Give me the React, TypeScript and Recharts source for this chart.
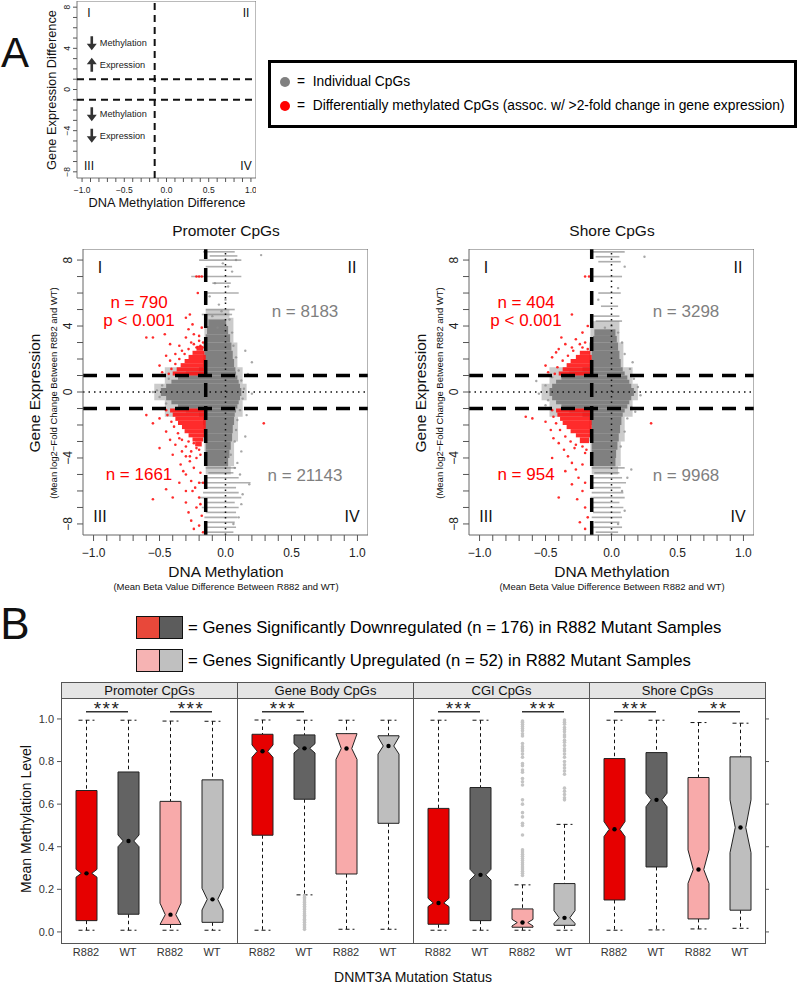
import React from 'react'
import {
  ScatterChart,
  Scatter,
  ComposedChart,
  Bar,
  XAxis,
  YAxis,
  ReferenceArea,
  ReferenceLine,
  ReferenceDot,
} from 'recharts'

const FONT = '"Liberation Sans", Arial, Helvetica, sans-serif'
const RED = '#ff1414'
const GREY = '#808080'
const MINUS = '\u2212'

// ---------- shared axis ticks ----------
const methTicks = [-1, -0.9, -0.8, -0.7, -0.6, -0.5, -0.4, -0.3, -0.2, -0.1, 0, 0.1, 0.2, 0.3, 0.4, 0.5, 0.6, 0.7, 0.8, 0.9, 1]
const exprTicks = [-8, -7, -6, -5, -4, -3, -2, -1, 0, 1, 2, 3, 4, 5, 6, 7, 8]
const exprCutoffs = [-1, 1]

// ---------- panel A schematic ----------
const schemMethCutoff = -0.14
const schemNotes = [
  { x: -0.885, y: 4.5, dir: 'down', text: 'Methylation' },
  { x: -0.885, y: 2.4, dir: 'up', text: 'Expression' },
  { x: -0.885, y: -2.4, dir: 'down', text: 'Methylation' },
  { x: -0.885, y: -4.5, dir: 'down', text: 'Expression' },
]

// ---------- scatter: Promoter CpGs ----------
const methCutoff = -0.15
// dense cloud read as horizontal bands: [exprLo, exprHi, methLo, methHi]
const promoterGreyCore = [
  [-4.5, -4.0, -0.14, 0.02], [-4.0, -3.5, -0.15, 0.03], [-3.5, -3.0, -0.15, 0.04], [-3.0, -2.5, -0.155, 0.05],
  [-2.5, -2.0, -0.16, 0.055], [-2.0, -1.5, -0.17, 0.065], [-1.5, -1.25, -0.2, 0.07], [-1.25, -1.0, -0.3, 0.08],
  [-1.0, -0.75, -0.36, 0.09], [-0.75, -0.5, -0.41, 0.1], [-0.5, -0.25, -0.45, 0.11], [-0.25, 0.25, -0.49, 0.12],
  [0.25, 0.5, -0.45, 0.11], [0.5, 0.75, -0.41, 0.1], [0.75, 1.0, -0.36, 0.09], [1.0, 1.25, -0.3, 0.08],
  [1.25, 1.5, -0.2, 0.075], [1.5, 2.0, -0.17, 0.065], [2.0, 2.5, -0.16, 0.055], [2.5, 3.0, -0.155, 0.045],
  [3.0, 3.5, -0.15, 0.035], [3.5, 4.0, -0.14, 0.02], [4.0, 4.4, -0.13, 0.005],
]
// sparser halo around the dense cloud
const promoterGreyHalo = [
  [-5.0, -4.5, -0.15, 0.04], [-4.5, -3.0, -0.16, 0.065], [-3.0, -1.5, -0.17, 0.095], [-1.5, -0.5, -0.46, 0.13],
  [-0.5, 0.5, -0.54, 0.16], [0.5, 1.5, -0.46, 0.13], [1.5, 3.0, -0.17, 0.09], [3.0, 4.5, -0.16, 0.06],
  [4.5, 5.0, -0.15, 0.03],
]
const promoterRedCore = [
  [1.0, 1.25, -0.4, -0.15], [1.25, 1.5, -0.37, -0.15], [1.5, 1.75, -0.34, -0.15], [1.75, 2.0, -0.31, -0.15],
  [2.0, 2.25, -0.28, -0.15], [2.25, 2.5, -0.25, -0.16], [2.5, 2.8, -0.22, -0.17],
  [-1.25, -1.0, -0.42, -0.15], [-1.5, -1.25, -0.4, -0.15], [-1.75, -1.5, -0.38, -0.15], [-2.0, -1.75, -0.36, -0.15],
  [-2.25, -2.0, -0.33, -0.15], [-2.5, -2.25, -0.31, -0.15], [-2.75, -2.5, -0.28, -0.16], [-3.0, -2.75, -0.25, -0.17],
  [-3.3, -3.0, -0.23, -0.18],
]
// rows of CpGs sharing one gene: [expr, methLo, methHi]
const promoterStreaks = [
  [8.5, -0.17, 0.07], [8.25, -0.12, 0.09], [8.0, -0.2, 0.12], [7.6, -0.15, 0.05], [7.0, -0.26, 0.12],
  [6.6, -0.1, 0.04], [6.0, -0.15, 0.1], [5.0, -0.15, 0.07], [4.7, -0.18, 0.05],
  [-4.6, -0.15, 0.08], [-4.9, -0.13, 0.06], [-5.2, -0.15, 0.1], [-5.5, -0.2, 0.19], [-5.8, -0.15, 0.08],
  [-6.1, -0.17, 0.1], [-6.4, -0.2, 0.12], [-6.7, -0.15, 0.07], [-7.0, -0.18, 0.1], [-7.3, -0.15, 0.08],
  [-7.6, -0.16, 0.09], [-7.9, -0.15, 0.07], [-8.2, -0.16, 0.08], [-8.5, -0.14, 0.06],
]
const promoterGreyPts = [
  [0.14, 0.2], [0.13, -0.4], [0.12, 0.7], [0.11, -1.1], [0.1, 1.3], [0.09, -1.7], [0.08, 2.1], [0.08, -2.3],
  [0.06, 2.8], [0.07, -3.0], [0.05, 3.6], [0.04, -3.8], [0.2, -0.1], [0.16, -1.4], [0.17, 1.1], [-0.52, 0.1],
  [-0.5, -0.3], [-0.48, 0.4], [-0.45, -0.7], [-0.43, 0.8], [-0.55, 0.0], [-0.1, 4.6], [-0.05, 5.3], [0.0, 5.6],
  [-0.12, 5.8], [0.02, 6.4], [-0.08, 6.6], [0.05, 7.3], [-0.02, 7.8], [0.08, 8.0], [0.27, 8.3], [-0.03, 4.9],
  [0.03, 4.4], [0.15, -2.7], [0.12, -3.6], [0.09, -4.3], [0.18, -5.6], [0.12, -6.8], [0.1, -7.6], [0.06, -8.0],
  [0.15, 2.5], [0.2, 1.8], [0.11, -5.0], [0.13, -6.2], [-0.06, 3.9], [0.07, -4.6],
]
const promoterRedPts = [
  [-0.6, 3.3], [-0.55, 3.3], [-0.46, 3.5], [-0.42, 2.9], [-0.35, 2.8], [-0.3, 3.3], [-0.28, 3.8], [-0.24, 3.5],
  [-0.2, 3.1], [-0.18, 3.9], [-0.45, 2.2], [-0.5, 1.6], [-0.48, 1.2], [-0.42, 1.9], [-0.22, 2.7], [-0.26, 3.0],
  [-0.33, 2.5], [-0.38, 2.3], [-0.19, 2.8], [-0.25, 4.1], [-0.22, 7.0], [-0.2, 7.0], [-0.18, 7.0], [-0.27, 4.7],
  [-0.3, 4.5], [-0.21, 6.0], [-0.43, 1.1], [-0.41, 1.4], [-0.38, 1.7], [-0.35, 2.0], [-0.31, 2.3], [-0.28, 2.6],
  [-0.24, 2.9], [-0.2, 3.4], [-0.17, 3.0], [-0.16, 2.7],
  [-0.5, -1.6], [-0.55, -1.9], [-0.45, -2.4], [-0.42, -2.9], [-0.38, -3.2], [-0.33, -3.6], [-0.3, -3.9],
  [-0.27, -4.2], [-0.22, -4.0], [-0.2, -3.5], [-0.28, -3.0], [-0.35, -2.8], [-0.24, -4.6], [-0.19, -4.9],
  [-0.3, -5.0], [-0.35, -5.5], [-0.26, -5.4], [-0.2, -5.5], [-0.17, -5.5], [-0.45, -5.9], [-0.25, -6.0],
  [-0.2, -6.4], [-0.4, -6.4], [-0.55, -6.5], [-0.3, -6.7], [-0.22, -7.0], [-0.28, -7.3], [-0.18, -7.5],
  [-0.26, -7.8], [-0.2, -8.1], [-0.24, -8.3], [-0.17, -8.5], [-0.3, -6.0], [-0.6, -1.4], [-0.5, -3.4],
  [-0.34, -4.4], [0.29, -1.9], [-0.4, -3.8], [-0.32, -4.8], [-0.23, -5.8], [-0.19, -6.8],
  [-0.45, -1.1], [-0.44, -1.4], [-0.41, -1.8], [-0.39, -2.1], [-0.36, -2.5], [-0.33, -2.9], [-0.3, -3.3],
  [-0.26, -3.6], [-0.22, -3.4], [-0.19, -3.8], [-0.24, -3.1], [-0.27, -3.9],
]

// ---------- scatter: Shore CpGs ----------
const shoreGreyCore = [
  [-4.5, -4.0, -0.14, 0.03], [-4.0, -3.5, -0.15, 0.035], [-3.5, -3.0, -0.15, 0.045], [-3.0, -2.5, -0.15, 0.055],
  [-2.5, -2.0, -0.15, 0.065], [-2.0, -1.5, -0.155, 0.075], [-1.5, -1.25, -0.22, 0.085], [-1.25, -1.0, -0.32, 0.1],
  [-1.0, -0.75, -0.38, 0.12], [-0.75, -0.5, -0.42, 0.135], [-0.5, -0.25, -0.45, 0.15], [-0.25, 0.25, -0.47, 0.17],
  [0.25, 0.5, -0.45, 0.15], [0.5, 0.75, -0.42, 0.135], [0.75, 1.0, -0.38, 0.12], [1.0, 1.25, -0.32, 0.1],
  [1.25, 1.5, -0.22, 0.085], [1.5, 2.0, -0.155, 0.07], [2.0, 2.5, -0.15, 0.06], [2.5, 3.0, -0.15, 0.05],
  [3.0, 3.4, -0.14, 0.04], [3.4, 3.8, -0.13, 0.03],
]
const shoreGreyHalo = [
  [-5.0, -4.5, -0.15, 0.05], [-4.5, -3.0, -0.16, 0.07], [-3.0, -1.5, -0.17, 0.1], [-1.5, -0.5, -0.47, 0.16],
  [-0.5, 0.5, -0.53, 0.2], [0.5, 1.5, -0.47, 0.16], [1.5, 3.0, -0.17, 0.09], [3.0, 4.3, -0.16, 0.06],
]
const shoreRedCore = [
  [1.0, 1.25, -0.4, -0.15], [1.25, 1.5, -0.37, -0.15], [1.5, 1.75, -0.34, -0.15], [1.75, 2.0, -0.31, -0.15],
  [2.0, 2.25, -0.27, -0.15], [2.25, 2.5, -0.24, -0.16],
  [-1.25, -1.0, -0.42, -0.15], [-1.5, -1.25, -0.41, -0.15], [-1.75, -1.5, -0.39, -0.15], [-2.0, -1.75, -0.37, -0.15],
  [-2.25, -2.0, -0.34, -0.15], [-2.5, -2.25, -0.31, -0.15], [-2.75, -2.5, -0.27, -0.16], [-3.1, -2.75, -0.24, -0.17],
]
const shoreStreaks = [
  [8.5, -0.15, 0.1], [8.2, -0.12, 0.06], [7.9, -0.1, 0.07], [7.0, -0.15, 0.08], [6.0, -0.1, 0.07],
  [5.2, -0.08, 0.05], [4.6, -0.15, 0.06], [4.3, -0.12, 0.08],
  [-4.6, -0.15, 0.1], [-4.9, -0.13, 0.06], [-5.2, -0.15, 0.08], [-5.5, -0.15, 0.11], [-5.8, -0.14, 0.07],
  [-6.1, -0.15, 0.09], [-6.4, -0.16, 0.1], [-6.7, -0.14, 0.06], [-7.0, -0.15, 0.09], [-7.3, -0.14, 0.07],
  [-7.6, -0.15, 0.08], [-7.9, -0.13, 0.06], [-8.2, -0.15, 0.08], [-8.5, -0.12, 0.05],
]
const shoreGreyPts = [
  [0.2, 0.3], [0.22, -0.2], [0.17, 0.8], [0.15, -0.9], [0.14, 1.4], [0.12, -1.6], [0.1, 2.3], [0.1, -2.4],
  [0.08, 3.0], [0.07, -3.3], [-0.55, -0.1], [-0.5, 0.4], [-0.57, 0.67], [-0.48, -0.5], [-0.45, 0.9],
  [0.05, 3.6], [0.0, 4.0], [-0.05, 3.9], [0.15, -4.7], [0.12, -5.2], [0.25, 8.2], [0.1, 7.6], [0.05, 6.3],
  [-0.1, 5.6], [0.08, -6.0], [0.1, -7.2], [0.05, -8.0], [0.18, -1.2], [0.16, 1.8], [-0.5, -0.8],
]
const shoreRedPts = [
  [-0.3, 4.7], [-0.22, 3.6], [-0.27, 3.2], [-0.35, 2.9], [-0.4, 2.6], [-0.45, 2.1], [-0.5, 1.6], [-0.48, 1.2],
  [-0.42, 2.4], [-0.3, 2.7], [-0.2, 3.0], [-0.18, 4.0], [-0.2, 7.0], [-0.17, 7.0], [-0.38, 3.3], [-0.24, 2.9],
  [-0.43, 1.1], [-0.41, 1.5], [-0.37, 1.9], [-0.33, 2.2], [-0.29, 2.5], [-0.22, 2.7], [-0.18, 2.6],
  [-0.65, -1.5], [-0.6, -1.6], [-0.5, -1.8], [-0.46, -2.3], [-0.44, -2.8], [-0.4, -3.1], [-0.36, -3.5],
  [-0.33, -3.9], [-0.3, -4.3], [-0.27, -4.7], [-0.22, -4.4], [-0.2, -3.7], [-0.35, -4.8], [-0.25, -5.2],
  [-0.2, -5.5], [-0.3, -5.6], [-0.22, -6.0], [-0.4, -6.4], [-0.26, -6.5], [-0.2, -7.0], [-0.18, -7.6],
  [-0.24, -7.9], [-0.2, -8.3], [0.3, -1.9], [-0.28, -3.4], [-0.45, -4.0],
  [-0.45, -1.1], [-0.44, -1.5], [-0.42, -1.9], [-0.39, -2.3], [-0.35, -2.7], [-0.31, -3.0], [-0.27, -3.2],
  [-0.22, -3.3], [-0.19, -3.5],
]

// ---------- panel B boxplots ----------
// each box: [whiskerLo, q1, notchLo, median, notchHi, q3, whiskerHi]
const facetNames = ['Promoter CpGs', 'Gene Body CpGs', 'CGI CpGs', 'Shore CpGs']
const boxIds = ['a', 'b', 'c', 'd']
const boxLabels: Record<string, string> = { a: 'R882', b: 'WT', c: 'R882', d: 'WT' }
const boxFills = ['#e60000', '#636363', '#f8aaaa', '#bebebe']
const levelTicks = [0, 0.2, 0.4, 0.6, 0.8, 1.0]

const promoterStats = [
  [0.008, 0.053, 0.257, 0.275, 0.294, 0.664, 0.994],
  [0.008, 0.083, 0.4, 0.427, 0.455, 0.751, 0.994],
  [0.008, 0.035, 0.035, 0.081, 0.135, 0.613, 0.99],
  [0.008, 0.045, 0.103, 0.153, 0.205, 0.714, 0.989],
]
const geneBodyStats = [
  [0.008, 0.454, 0.82, 0.848, 0.878, 0.928, 0.995],
  [0.174, 0.623, 0.84, 0.862, 0.884, 0.925, 0.994],
  [0.0125, 0.272, 0.81, 0.861, 0.93, 0.931, 0.994],
  [0.0125, 0.51, 0.835, 0.873, 0.915, 0.921, 0.994],
]
const cgiStats = [
  [0.008, 0.036, 0.119, 0.136, 0.158, 0.58, 0.994],
  [0.008, 0.053, 0.244, 0.268, 0.294, 0.678, 0.994],
  [0.008, 0.022, 0.028, 0.044, 0.059, 0.108, 0.221],
  [0.008, 0.031, 0.04, 0.066, 0.1, 0.227, 0.505],
]
const shoreStats = [
  [0.008, 0.15, 0.448, 0.482, 0.518, 0.814, 0.994],
  [0.0094, 0.305, 0.588, 0.62, 0.651, 0.842, 0.994],
  [0.014, 0.061, 0.228, 0.293, 0.385, 0.725, 0.983],
  [0.017, 0.102, 0.372, 0.49, 0.62, 0.822, 0.98],
]

const geneBodyWtOutliers = [
  0.012, 0.02, 0.028, 0.035, 0.045, 0.052, 0.06, 0.07, 0.078, 0.085, 0.095, 0.105, 0.112, 0.12, 0.13,
  0.138, 0.145, 0.155, 0.162, 0.17,
]
const cgiUpR882Outliers = [
  0.99, 0.985, 0.975, 0.965, 0.955, 0.945, 0.93, 0.92, 0.885, 0.87, 0.86, 0.85, 0.835, 0.82, 0.79, 0.78,
  0.76, 0.75, 0.72, 0.705, 0.69, 0.62, 0.6, 0.56, 0.54, 0.51, 0.5, 0.455, 0.385, 0.375, 0.365, 0.355, 0.345,
  0.335, 0.325, 0.315, 0.305, 0.295, 0.285, 0.275, 0.265,
]
const cgiUpWtOutliers = [
  0.995, 0.985, 0.975, 0.96, 0.95, 0.94, 0.925, 0.915, 0.9, 0.89, 0.875, 0.86, 0.85, 0.835, 0.82, 0.8,
  0.785, 0.77, 0.755, 0.74, 0.675, 0.66, 0.645, 0.63, 0.62,
]

const facetStats = [promoterStats, geneBodyStats, cgiStats, shoreStats]
const facetOutliers = [
  [[], [], [], []],
  [[], geneBodyWtOutliers, [], []],
  [[], [], cgiUpR882Outliers, cgiUpWtOutliers],
  [[], [], [], []],
]
const facetSig = [
  [['a', 'b', '***'], ['c', 'd', '***']],
  [['a', 'b', '***']],
  [['a', 'b', '***'], ['c', 'd', '***']],
  [['a', 'b', '***'], ['c', 'd', '**']],
]
const sigLevel = 1.034

// ---------- helpers ----------
function Txt({ x, y, size, color = '#111', rot = 0, children }: any) {
  return (
    <div
      style={{
        position: 'absolute',
        left: x,
        top: y,
        transform: `translate(-50%,-50%) rotate(${rot}deg)`,
        fontSize: size,
        color,
        fontFamily: FONT,
        lineHeight: 1,
        whiteSpace: 'nowrap',
      }}
    >
      {children}
    </div>
  )
}

const signed = (s: string, neg: boolean) => (neg ? MINUS : '') + s
const fmtMeth = (v: number) =>
  Math.abs(v * 2 - Math.round(v * 2)) < 1e-6 ? signed(Math.abs(v).toFixed(1), v < -1e-9) : ''
const fmtExpr = (v: number) => (v % 4 === 0 ? signed(String(Math.abs(v)), v < 0) : '')

function RotTick(props: any) {
  const { x, y, payload, size } = props
  const s = fmtExpr(payload.value)
  if (!s) return <g />
  return (
    <text
      transform={`translate(${x},${y}) rotate(-90)`}
      textAnchor="middle"
      fontSize={size}
      fontFamily={FONT}
      fill="#222"
    >
      {s}
    </text>
  )
}

const toPts = (arr: number[][]) => arr.map(([x, y]) => ({ x, y }))

function NoteArrow(props: any) {
  const { cx, cy, dir, text } = props
  const s = dir === 'down' ? 1 : -1
  const pts = [
    [cx - 1.3, cy - 7 * s],
    [cx + 1.3, cy - 7 * s],
    [cx + 1.3, cy + 0.5 * s],
    [cx + 5, cy + 0.5 * s],
    [cx, cy + 7 * s],
    [cx - 5, cy + 0.5 * s],
    [cx - 1.3, cy + 0.5 * s],
  ]
  return (
    <g>
      <polygon points={pts.map((p) => p.join(',')).join(' ')} fill="#333" />
      <text x={cx + 8} y={cy + 3.2} fontSize={9.2} fontFamily={FONT} fill="#222">
        {text}
      </text>
    </g>
  )
}

// ---------- panel A schematic ----------
function Schematic() {
  return (
    <div style={{ position: 'absolute', left: 55, top: 1 }}>
      <ScatterChart width={201} height={199} margin={{ top: 0, right: 0, bottom: 0, left: 0 }}>
        <XAxis
          type="number"
          dataKey="x"
          domain={[-1.06, 1.06]}
          ticks={methTicks}
          interval={0}
          tickFormatter={fmtMeth}
          height={22}
          tickSize={4}
          tickMargin={5}
          axisLine={false}
          stroke="#555"
          tick={{ fontSize: 8.5, fill: '#222', fontFamily: FONT }}
          allowDataOverflow
        />
        <YAxis
          type="number"
          dataKey="y"
          domain={[-8.6, 8.6]}
          ticks={exprTicks}
          interval={0}
          width={22}
          tickSize={4}
          tickMargin={3}
          axisLine={false}
          stroke="#555"
          tick={(p: any) => <RotTick {...p} size={8.5} />}
          allowDataOverflow
        />
        <Scatter data={[]} isAnimationActive={false} />
        {exprCutoffs.map((c) => (
          <ReferenceLine key={c} y={c} stroke="#111" strokeWidth={2} strokeDasharray="7 5" />
        ))}
        <ReferenceLine x={schemMethCutoff} stroke="#111" strokeWidth={2} strokeDasharray="7 5" />
        {schemNotes.map((n) => (
          <ReferenceDot
            key={n.text + n.y}
            x={n.x}
            y={n.y}
            r={0}
            shape={(p: any) => <NoteArrow {...p} dir={n.dir} text={n.text} />}
          />
        ))}
        <ReferenceArea x1={-1.06} x2={1.06} y1={-8.6} y2={8.6} fill="none" stroke="#777" strokeWidth={1} />
      </ScatterChart>
    </div>
  )
}

// ---------- big scatter ----------
function MethScatter({ left, core, halo, redCore, streaks, greyPts, redPts }: any) {
  const dom: [number, number] = [-1.08, 1.08]
  const edom: [number, number] = [-8.67, 8.67]
  return (
    <div style={{ position: 'absolute', left, top: 249 }}>
      <ScatterChart width={315} height={316} margin={{ top: 0, right: 0, bottom: 0, left: 0 }}>
        <XAxis
          type="number"
          dataKey="x"
          domain={dom}
          ticks={methTicks}
          interval={0}
          tickFormatter={fmtMeth}
          height={30}
          tickSize={6}
          tickMargin={7}
          axisLine={false}
          stroke="#555"
          tick={{ fontSize: 12, fill: '#222', fontFamily: FONT }}
          allowDataOverflow
        />
        <YAxis
          type="number"
          dataKey="y"
          domain={edom}
          ticks={exprTicks}
          interval={0}
          width={30}
          tickSize={6}
          tickMargin={5}
          axisLine={false}
          stroke="#555"
          tick={(p: any) => <RotTick {...p} size={12} />}
          allowDataOverflow
        />
        {halo.map((b: number[], i: number) => (
          <ReferenceArea key={'h' + i} y1={b[0]} y2={b[1]} x1={b[2]} x2={b[3]} fill="#8c8c8c" fillOpacity={0.45} stroke="none" zIndex={90} />
        ))}
        {core.map((b: number[], i: number) => (
          <ReferenceArea key={'g' + i} y1={b[0]} y2={b[1]} x1={b[2]} x2={b[3]} fill={GREY} fillOpacity={1} stroke="none" zIndex={100} />
        ))}
        {streaks.map((s: number[], i: number) => (
          <ReferenceArea key={'s' + i} y1={s[0] - 0.05} y2={s[0] + 0.05} x1={s[1]} x2={s[2]} fill="#7a7a7a" fillOpacity={0.6} stroke="none" zIndex={100} />
        ))}
        <Scatter
          data={toPts(greyPts)}
          isAnimationActive={false}
          zIndex={150}
          shape={(p: any) => <circle cx={p.cx} cy={p.cy} r={1.2} fill="#8a8a8a" fillOpacity={0.75} />}
        />
        {redCore.map((b: number[], i: number) => (
          <ReferenceArea key={'r' + i} y1={b[0]} y2={b[1]} x1={b[2]} x2={b[3]} fill={RED} fillOpacity={0.9} stroke="none" zIndex={200} />
        ))}
        <Scatter
          data={toPts(redPts)}
          isAnimationActive={false}
          zIndex={250}
          shape={(p: any) => <circle cx={p.cx} cy={p.cy} r={1.3} fill={RED} fillOpacity={0.9} />}
        />
        <ReferenceLine y={0} stroke="#111" strokeWidth={1.5} strokeDasharray="1.5 4" zIndex={300} />
        <ReferenceLine x={0} stroke="#111" strokeWidth={1.5} strokeDasharray="1.5 4" zIndex={300} />
        {exprCutoffs.map((c) => (
          <ReferenceLine key={c} y={c} stroke="#000" strokeWidth={3.5} strokeDasharray="14 9" zIndex={300} />
        ))}
        <ReferenceLine x={methCutoff} stroke="#000" strokeWidth={3.5} strokeDasharray="14 9" zIndex={300} />
        <ReferenceArea x1={dom[0]} x2={dom[1]} y1={edom[0]} y2={edom[1]} fill="none" stroke="#666" strokeWidth={1} zIndex={350} />
      </ScatterChart>
    </div>
  )
}

// ---------- boxplot shape ----------
function BoxShape(props: any) {
  const { x, y, width, height, payload } = props
  const s: number[] = payload.stats
  const top = Math.min(y, y + height)
  const bot = Math.max(y, y + height)
  const py = (v: number) => top + ((s[6] - v) / (s[6] - s[0])) * (bot - top)
  const cx = x + width / 2
  const l = x
  const r = x + width
  const ins = width / 4
  const cw = width * 0.38
  const poly = [
    [l, py(s[1])], [l, py(s[2])], [l + ins, py(s[3])], [l, py(s[4])], [l, py(s[5])],
    [r, py(s[5])], [r, py(s[4])], [r - ins, py(s[3])], [r, py(s[2])], [r, py(s[1])],
  ]
  return (
    <g>
      <line x1={cx} x2={cx} y1={py(s[6])} y2={py(s[5])} stroke="#111" strokeDasharray="3.5 3" />
      <line x1={cx} x2={cx} y1={py(s[1])} y2={py(s[0])} stroke="#111" strokeDasharray="3.5 3" />
      <line x1={cx - cw} x2={cx + cw} y1={py(s[6])} y2={py(s[6])} stroke="#111" strokeDasharray="4 3" />
      <line x1={cx - cw} x2={cx + cw} y1={py(s[0])} y2={py(s[0])} stroke="#111" strokeDasharray="4 3" />
      {payload.out.map((v: number, i: number) => (
        <circle key={i} cx={cx} cy={py(v)} r={1.8} fill="#c4c4c4" />
      ))}
      <polygon points={poly.map((p) => p.join(',')).join(' ')} fill={payload.fill} stroke="#222" strokeWidth={1} />
      <circle cx={cx} cy={py(s[3])} r={2.2} fill="#000" />
    </g>
  )
}

function Facet({ index }: { index: number }) {
  const stats = facetStats[index]
  const outs = facetOutliers[index]
  const first = index === 0
  const last = index === 3
  const left = first ? 0 : 61 + 176 * index
  const width = first ? 237 : last ? 186 : 176
  const data = boxIds.map((id, i) => ({
    id,
    range: [stats[i][0], stats[i][6]],
    stats: stats[i],
    fill: boxFills[i],
    out: outs[i],
  }))
  const ydom: [number, number] = [-0.052, 1.103]
  return (
    <div style={{ position: 'absolute', left, top: 697 }}>
      <ComposedChart width={width} height={271} data={data} margin={{ top: 0, right: 0, bottom: 0, left: 0 }}>
        <XAxis
          dataKey="id"
          type="category"
          padding={{ left: 4, right: 4 }}
          tickLine={false}
          axisLine={false}
          tickSize={0}
          tickMargin={5}
          height={25}
          interval={0}
          tickFormatter={(v: string) => boxLabels[v]}
          tick={{ fontSize: 11, fill: '#333', fontFamily: FONT }}
        />
        {first ? (
          <YAxis
            domain={ydom}
            ticks={levelTicks}
            interval={0}
            width={61}
            tickSize={4}
            tickMargin={3}
            axisLine={false}
            stroke="#555"
            tickFormatter={(v: number) => v.toFixed(1)}
            tick={{ fontSize: 11, fill: '#333', fontFamily: FONT }}
            allowDataOverflow
          />
        ) : last ? (
          <YAxis
            orientation="right"
            domain={ydom}
            ticks={levelTicks}
            interval={0}
            width={10}
            tickSize={4}
            axisLine={false}
            stroke="#555"
            tickFormatter={() => ''}
            allowDataOverflow
          />
        ) : (
          <YAxis hide domain={ydom} allowDataOverflow />
        )}
        <Bar dataKey="range" barSize={21} isAnimationActive={false} shape={(p: any) => <BoxShape {...p} />} />
        {facetSig[index].map(([a, b, t]) => (
          <ReferenceLine
            key={a + b}
            segment={[{ x: a, y: sigLevel }, { x: b, y: sigLevel }]}
            stroke="#333"
            strokeWidth={1.5}
            label={{ value: t, position: 'top', offset: -3, fontSize: 19, fill: '#222', letterSpacing: 1.5 }}
          />
        ))}
      </ComposedChart>
    </div>
  )
}

export default function App() {
  return (
    <div style={{ position: 'absolute', left: 0, top: 0, width: 800, height: 986, background: '#fff', fontFamily: FONT }}>
      {/* panel A */}
      <Txt x={15} y={53} size={42}>A</Txt>
      <Schematic />
      <Txt x={52} y={90} size={12.8} rot={-90}>Gene Expression Difference</Txt>
      <Txt x={167} y={203} size={12.8}>DNA Methylation Difference</Txt>
      <Txt x={89} y={13} size={12}>I</Txt>
      <Txt x={246} y={13} size={12}>II</Txt>
      <Txt x={89} y={166} size={12}>III</Txt>
      <Txt x={246} y={166} size={12}>IV</Txt>

      <div
        style={{
          position: 'absolute',
          left: 268,
          top: 60,
          width: 529,
          height: 68,
          border: '3px solid #000',
          boxSizing: 'border-box',
        }}
      />
      <div style={{ position: 'absolute', left: 280, top: 77, width: 10, height: 10, borderRadius: 5, background: GREY }} />
      <div style={{ position: 'absolute', left: 280, top: 101, width: 10, height: 10, borderRadius: 5, background: '#f00' }} />
      <div style={{ position: 'absolute', left: 297, top: 82, transform: 'translateY(-50%)', fontSize: 13.8, lineHeight: 1, whiteSpace: 'nowrap' }}>
        =&nbsp;&nbsp;Individual CpGs
      </div>
      <div style={{ position: 'absolute', left: 297, top: 106, transform: 'translateY(-50%)', fontSize: 13.8, lineHeight: 1, whiteSpace: 'nowrap' }}>
        =&nbsp;&nbsp;Differentially methylated CpGs (assoc. w/ &gt;2-fold change in gene expression)
      </div>

      {/* scatter plots */}
      <Txt x={226} y={231} size={15.5}>Promoter CpGs</Txt>
      <Txt x={612} y={231} size={15.5}>Shore CpGs</Txt>
      <MethScatter
        left={53}
        core={promoterGreyCore}
        halo={promoterGreyHalo}
        redCore={promoterRedCore}
        streaks={promoterStreaks}
        greyPts={promoterGreyPts}
        redPts={promoterRedPts}
      />
      <MethScatter
        left={439}
        core={shoreGreyCore}
        halo={shoreGreyHalo}
        redCore={shoreRedCore}
        streaks={shoreStreaks}
        greyPts={shoreGreyPts}
        redPts={shoreRedPts}
      />
      {[0, 386].map((dx) => (
        <React.Fragment key={dx}>
          <Txt x={35 + dx} y={393} size={15.5} rot={-90}>Gene Expression</Txt>
          <Txt x={54 + dx} y={393} size={9.5} rot={-90}>{`(Mean log2${MINUS}Fold Change Between R882 and WT)`}</Txt>
          <Txt x={226 + dx} y={572} size={15.5}>DNA Methylation</Txt>
          <Txt x={226 + dx} y={587} size={9.5}>(Mean Beta Value Difference Between R882 and WT)</Txt>
          <Txt x={100 + dx} y={268} size={16}>I</Txt>
          <Txt x={352 + dx} y={268} size={16}>II</Txt>
          <Txt x={100 + dx} y={517} size={16}>III</Txt>
          <Txt x={352 + dx} y={517} size={16}>IV</Txt>
        </React.Fragment>
      ))}
      <Txt x={139} y={302} size={17} color="#f00">n = 790</Txt>
      <Txt x={139} y={320} size={17} color="#f00">p &lt; 0.001</Txt>
      <Txt x={139} y={474} size={17} color="#f00">n = 1661</Txt>
      <Txt x={305} y={311} size={17} color="#7f7f7f">n = 8183</Txt>
      <Txt x={305} y={475} size={17} color="#7f7f7f">n = 21143</Txt>
      <Txt x={526} y={302} size={17} color="#f00">n = 404</Txt>
      <Txt x={526} y={320} size={17} color="#f00">p &lt; 0.001</Txt>
      <Txt x={526} y={474} size={17} color="#f00">n = 954</Txt>
      <Txt x={686} y={311} size={17} color="#7f7f7f">n = 3298</Txt>
      <Txt x={686} y={475} size={17} color="#7f7f7f">n = 9968</Txt>

      {/* panel B */}
      <Txt x={15} y={624} size={44}>B</Txt>
      {[
        { top: 616, c1: '#e8483a', c2: '#5c5c5c', text: '= Genes Significantly Downregulated (n = 176) in R882 Mutant Samples' },
        { top: 649, c1: '#f6b3b3', c2: '#c0c0c0', text: '= Genes Significantly Upregulated (n = 52) in R882 Mutant Samples' },
      ].map((row) => (
        <React.Fragment key={row.top}>
          <div style={{ position: 'absolute', left: 136, top: row.top, width: 47, height: 23, border: '1.5px solid #111', boxSizing: 'border-box', display: 'flex' }}>
            <div style={{ flex: 1, background: row.c1, borderRight: '1.5px solid #111' }} />
            <div style={{ flex: 1, background: row.c2 }} />
          </div>
          <div style={{ position: 'absolute', left: 188, top: row.top + 11.5, transform: 'translateY(-50%)', fontSize: 16.7, lineHeight: 1, whiteSpace: 'nowrap' }}>
            {row.text}
          </div>
        </React.Fragment>
      ))}

      {facetNames.map((name, i) => (
        <div
          key={name}
          style={{
            position: 'absolute',
            left: 61 + 176 * i,
            top: 682,
            width: 177,
            height: 262,
            border: '1px solid #555',
            boxSizing: 'border-box',
          }}
        >
          <div
            style={{
              height: 15,
              background: '#e5e5e5',
              borderBottom: '1px solid #555',
              fontSize: 13,
              lineHeight: '15px',
              textAlign: 'center',
              color: '#111',
            }}
          >
            {name}
          </div>
        </div>
      ))}
      {[0, 1, 2, 3].map((i) => (
        <Facet key={i} index={i} />
      ))}
      <Txt x={26} y={819} size={14} rot={-90}>Mean Methylation Level</Txt>
      <Txt x={413} y={977} size={14}>DNMT3A Mutation Status</Txt>
    </div>
  )
}
